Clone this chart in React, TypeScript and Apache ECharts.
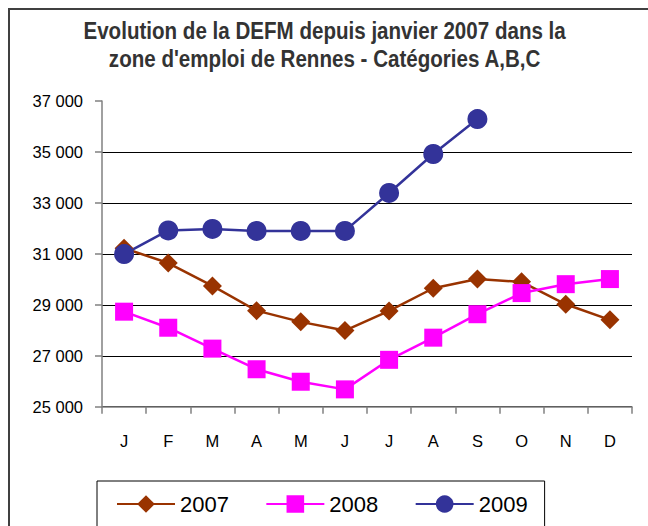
import React, { useEffect, useRef } from "react";
import * as echarts from "echarts";

const months = ["J", "F", "M", "A", "M", "J", "J", "A", "S", "O", "N", "D"];
const s2007 = [31220, 30640, 29740, 28770, 28330, 27990, 28760, 29650, 30010, 29900, 29020, 28410];
const s2008 = [28730, 28100, 27280, 26470, 25980, 25680, 26840, 27710, 28630, 29460, 29810, 30010];
const s2009 = [30990, 31920, 31980, 31900, 31900, 31900, 33390, 34920, 36290];
const titleLines = [
  "Evolution de la DEFM depuis janvier 2007 dans la",
  "zone d'emploi de Rennes - Catégories A,B,C",
];
const yMin = 25000;
const yMax = 37000;
const yStep = 2000;

const SANS = '"Liberation Sans", Arial, sans-serif';

export default function App() {
  const ref = useRef<HTMLDivElement>(null);
  useEffect(() => {
    if (!ref.current) return;
    const chart = echarts.init(ref.current, null, { renderer: "svg" });
    const fmt = (v: number) => {
      const s = String(Math.round(v));
      return s.length > 3 ? s.slice(0, s.length - 3) + " " + s.slice(-3) : s;
    };
    const titleStyle = {
      fontFamily: SANS,
      fontSize: 24.5,
      fontWeight: "bold",
      fill: "#333333",
      align: "center",
      verticalAlign: "middle",
    };
    chart.setOption({
      animation: false,
      backgroundColor: "#ffffff",
      textStyle: { fontFamily: SANS },
      graphic: [
        {
          type: "text",
          x: 324.6,
          y: 30.8,
          scaleX: 0.84,
          silent: true,
          style: { ...titleStyle, text: titleLines[0] },
        },
        {
          type: "text",
          x: 324.6,
          y: 59.2,
          scaleX: 0.84,
          silent: true,
          style: { ...titleStyle, text: titleLines[1] },
        },
        {
          type: "rect",
          shape: { x: 9, y: 9, width: 700, height: 600 },
          style: { fill: "none", stroke: "#404040", lineWidth: 2 },
          silent: true,
          z: 100,
        },
      ],
      grid: { left: 102, right: 16, top: 101, bottom: 119.3, containLabel: false },
      xAxis: {
        type: "category",
        data: months,
        boundaryGap: true,
        axisLine: { lineStyle: { color: "#808080", width: 1.5 } },
        axisTick: { show: true, length: 7, lineStyle: { color: "#808080", width: 1.5 } },
        axisLabel: {
          color: "#000000",
          fontFamily: SANS,
          fontSize: 16.5,
          margin: 26,
        },
      },
      yAxis: {
        type: "value",
        min: yMin,
        max: yMax,
        interval: yStep,
        axisLine: { show: true, lineStyle: { color: "#808080", width: 1.5 } },
        axisTick: { show: true, length: 7, lineStyle: { color: "#808080", width: 1.5 } },
        axisLabel: {
          color: "#000000",
          fontFamily: SANS,
          fontSize: 16.5,
          margin: 19,
          formatter: fmt,
        },
        splitLine: {
          show: true,
          lineStyle: {
            color: ["#000", "#000", "#000", "#000", "#000", "#000", "rgba(0,0,0,0)"],
            width: 1,
          },
        },
      },
      legend: {
        left: 97,
        top: 481,
        padding: [12, 17, 12, 19],
        borderColor: "#000000",
        borderWidth: 1,
        itemWidth: 58,
        itemHeight: 22,
        itemGap: 36.4,
        textStyle: { fontFamily: SANS, fontSize: 22, color: "#000000" },
        data: ["2007", "2008", "2009"],
      },
      series: [
        {
          name: "2007",
          type: "line",
          data: s2007,
          symbol: "diamond",
          symbolSize: 19,
          itemStyle: { color: "#993300" },
          lineStyle: { color: "#993300", width: 2.5 },
        },
        {
          name: "2008",
          type: "line",
          data: s2008,
          symbol: "rect",
          symbolSize: 18,
          itemStyle: { color: "#ff00ff" },
          lineStyle: { color: "#ff00ff", width: 2.5 },
        },
        {
          name: "2009",
          type: "line",
          data: s2009,
          symbol: "circle",
          symbolSize: 20,
          itemStyle: { color: "#333399" },
          lineStyle: { color: "#333399", width: 2.5 },
        },
      ],
    });
    return () => chart.dispose();
  }, []);
  return (
    <div
      ref={ref}
      style={{ position: "fixed", left: 0, top: 0, width: 648, height: 526, background: "#fff" }}
    />
  );
}
